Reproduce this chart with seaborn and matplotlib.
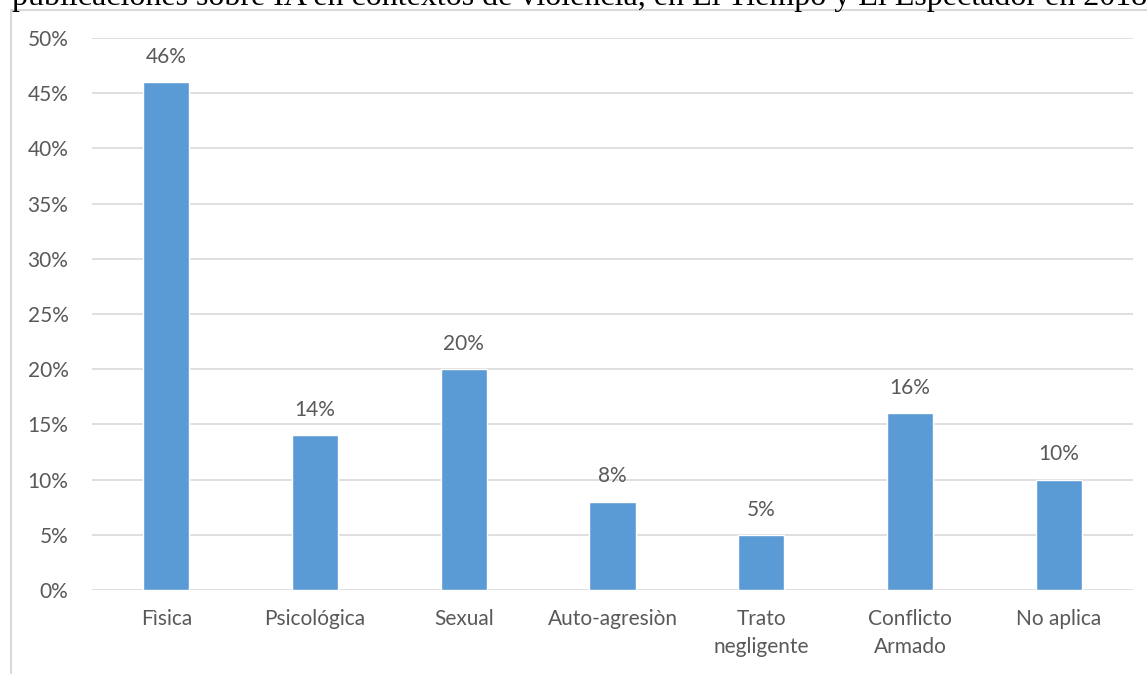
import matplotlib
matplotlib.use("Agg")
import matplotlib.pyplot as plt
from matplotlib.patches import Rectangle
from matplotlib.ticker import FuncFormatter, MultipleLocator
import seaborn as sns
import pandas as pd

# Tipos de violencia y porcentaje de publicaciones
categorias = ["Fìsica", "Psicológica", "Sexual", "Auto-agresiòn",
              "Trato\nnegligente", "Conflicto\nArmado", "No aplica"]
porcentajes = [46, 14, 20, 8, 5, 16, 10]
titulo = ("publicaciones sobre IA en contextos de violencia, "
          "en El Tiempo y El Espectador en 2018")

df = pd.DataFrame({"categoria": categorias, "valor": [p / 100 for p in porcentajes]})

sns.set_theme(style="white")
plt.rcParams["font.family"] = ["Lato", "DejaVu Sans"]

texto = "#595959"
rejilla = "#D9D9D9"
azul = "#5B9BD5"
tam = 15

fig = plt.figure(figsize=(11.47, 6.74), dpi=100)
ax = fig.add_axes([92 / 1147, 84 / 674, (1133 - 92) / 1147, (636 - 84) / 674])

sns.barplot(data=df, x="categoria", y="valor", color=azul, width=0.31,
            saturation=1, ax=ax, zorder=3)

ax.set_ylim(0, 0.5)
ax.set_xlim(-0.5, len(categorias) - 0.5)
ax.yaxis.set_major_locator(MultipleLocator(0.05))
ax.yaxis.set_major_formatter(FuncFormatter(lambda v, _: f"{v * 100:.0f}%"))
ax.grid(axis="y", color=rejilla, linewidth=1.2, zorder=0)
ax.set_axisbelow(True)
for s in ax.spines.values():
    s.set_visible(False)
ax.set_xlabel("")
ax.set_ylabel("")
ax.tick_params(axis="y", length=0, pad=17, labelsize=tam, labelcolor=texto)
ax.tick_params(axis="x", length=0, pad=14, labelsize=tam, labelcolor=texto)
for lbl in ax.get_xticklabels():
    lbl.set_linespacing(1.45)

ax.bar_label(ax.containers[0], labels=[f"{p}%" for p in porcentajes],
             padding=11, fontsize=tam, color=texto)

# Marco del gráfico
fig.patches.append(Rectangle((11 / 1147, -0.1), 1.2, (674 - 10) / 674 + 0.1,
                             transform=fig.transFigure, fill=False,
                             edgecolor=rejilla, linewidth=1.5))

fig.text(12 / 1147, 1 - 5 / 674, titulo, family="Liberation Serif",
         fontsize=23, color="black", ha="left", va="baseline")

fig.savefig("out.png", dpi=100)
